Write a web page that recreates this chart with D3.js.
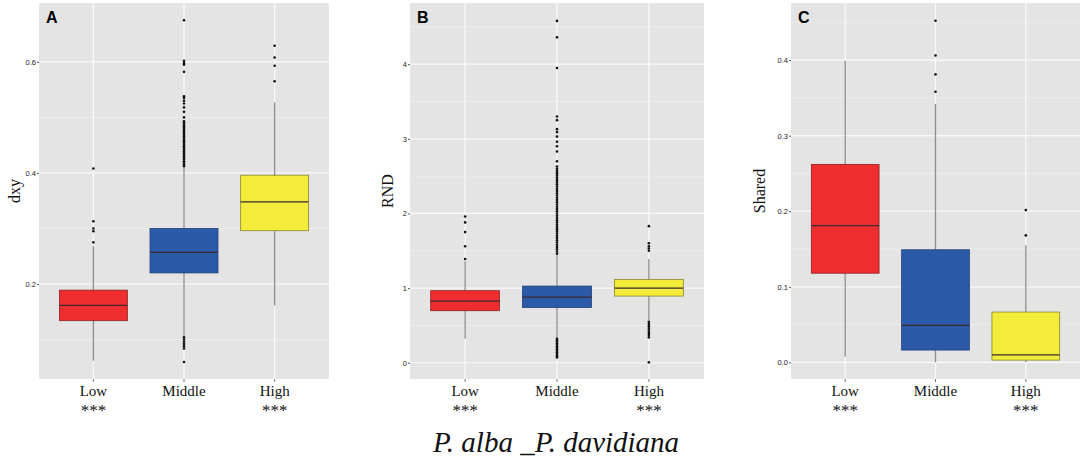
<!DOCTYPE html>
<html>
<head>
  <meta charset="utf-8">
  <script src="https://cdn.jsdelivr.net/npm/d3@7"></script>
  <style>
    body { margin: 0; background: #fff; }
  </style>
</head>
<body>
<script>
  var width = 1084;
  var height = 463;

  // categories and stars under the labels
  var groups = ["Low", "Middle", "High"];
  var stars = ["***", "", "***"];
  var fills = ["#ee2d2f", "#2b5aa9", "#f3ec3b"];
  var edges = ["#8e2020", "#1f3f78", "#8a8530"];

  // box stats: [lower whisker, q1, median, q3, upper whisker]
  var dxyStats = [
    [0.062, 0.134, 0.1615, 0.189, 0.268],
    [0.106, 0.220, 0.257, 0.300, 0.410],
    [0.1615, 0.296, 0.348, 0.396, 0.527]
  ];
  var dxyOut = [
    [0.275, 0.295, 0.300, 0.313, 0.408],
    [0.0595, 0.084, 0.088, 0.092, 0.096, 0.100, 0.104,
     0.412, 0.415, 0.418, 0.421, 0.424, 0.427, 0.430, 0.433, 0.436, 0.439, 0.442, 0.445,
     0.448, 0.451, 0.454, 0.457, 0.460, 0.463, 0.466, 0.469, 0.472, 0.475, 0.478, 0.481,
     0.484, 0.487, 0.490, 0.493, 0.500, 0.510, 0.518, 0.525, 0.530, 0.535, 0.538,
     0.582, 0.595, 0.598, 0.602, 0.675],
    [0.565, 0.593, 0.608, 0.629]
  ];

  var rndStats = [
    [0.32, 0.697, 0.826, 0.965, 1.36],
    [0.33, 0.741, 0.879, 1.027, 1.44],
    [0.57, 0.893, 1.0, 1.117, 1.39]
  ];
  var rndOut = [
    [1.39, 1.56, 1.75, 1.88, 1.96],
    [0.07, 0.08, 0.10, 0.12, 0.14, 0.16, 0.18, 0.20, 0.22, 0.24, 0.26, 0.28, 0.30, 0.32,
     1.46, 1.49, 1.52, 1.55, 1.58, 1.61, 1.64, 1.67, 1.70, 1.73, 1.76, 1.79, 1.82, 1.85,
     1.88, 1.91, 1.94, 1.97, 2.00, 2.03, 2.06, 2.09, 2.12, 2.15, 2.18, 2.21, 2.24, 2.27,
     2.30, 2.33, 2.36, 2.39, 2.42, 2.45, 2.48, 2.51, 2.54, 2.57, 2.60, 2.63,
     2.70, 2.83, 2.90, 2.96, 3.03, 3.09, 3.13, 3.25, 3.30, 3.95, 4.36, 4.58],
    [0.005, 0.34, 0.37, 0.40, 0.43, 0.46, 0.49, 0.52, 0.55,
     1.50, 1.53, 1.56, 1.60, 1.83]
  ];

  var sharedStats = [
    [0.0075, 0.118, 0.181, 0.262, 0.399],
    [0.0, 0.0163, 0.049, 0.149, 0.342],
    [0.0, 0.003, 0.010, 0.0666, 0.155]
  ];
  var sharedOut = [
    [],
    [0.358, 0.381, 0.406, 0.452],
    [0.168, 0.2015]
  ];

  var dxyTicks = [0.2, 0.4, 0.6];
  var dxyMinor = [0.1, 0.3, 0.5, 0.7];
  var rndTicks = [0, 1, 2, 3, 4];
  var rndMinor = [0.5, 1.5, 2.5, 3.5, 4.5];
  var sharedTicks = [0.0, 0.1, 0.2, 0.3, 0.4];
  var sharedMinor = [0.05, 0.15, 0.25, 0.35, 0.45];

  var svg = d3.select("body")
    .append("svg")
    .attr("width", width)
    .attr("height", height)
    .style("font-family", "'Liberation Serif', serif");

  var panels = [
    { tag: "A", title: "dxy", left: 39, right: 329, dom: [0.029, 0.706], stats: dxyStats, out: dxyOut,
      ticks: dxyTicks, minor: dxyMinor, fmt: d3.format(".1f"), titleX: 14 },
    { tag: "B", title: "RND", left: 410, right: 704, dom: [-0.218, 4.82], stats: rndStats, out: rndOut,
      ticks: rndTicks, minor: rndMinor, fmt: d3.format("d"), titleX: 387 },
    { tag: "C", title: "Shared", left: 791, right: 1080, dom: [-0.022, 0.4755], stats: sharedStats, out: sharedOut,
      ticks: sharedTicks, minor: sharedMinor, fmt: d3.format(".1f"), titleX: 759 }
  ];

  var plotTop = 3, plotBottom = 379;

  panels.forEach(function(p) {
    var g = svg.append("g");
    var x = d3.scaleBand().domain(groups).range([p.left, p.right]).paddingOuter(0.1).paddingInner(0);
    var y = d3.scaleLinear().domain(p.dom).range([plotBottom, plotTop]);
    var bw = x.bandwidth() * 0.75;
    function cx(d) { return x(d) + x.bandwidth() / 2; }

    g.append("rect")
      .attr("x", p.left).attr("y", plotTop)
      .attr("width", p.right - p.left).attr("height", plotBottom - plotTop)
      .attr("fill", "#e4e4e4");

    // grid
    g.selectAll(".minor").data(p.minor.filter(function(v) { return y(v) >= plotTop && y(v) <= plotBottom; }))
      .enter().append("line")
      .attr("x1", p.left).attr("x2", p.right)
      .attr("y1", function(d) { return y(d); }).attr("y2", function(d) { return y(d); })
      .attr("stroke", "#f2f2f2").attr("stroke-width", 0.6);
    g.selectAll(".major").data(p.ticks)
      .enter().append("line")
      .attr("x1", p.left).attr("x2", p.right)
      .attr("y1", function(d) { return y(d); }).attr("y2", function(d) { return y(d); })
      .attr("stroke", "#fafafa").attr("stroke-width", 1.2);
    g.selectAll(".vgrid").data(groups)
      .enter().append("line")
      .attr("x1", cx).attr("x2", cx)
      .attr("y1", plotTop).attr("y2", plotBottom)
      .attr("stroke", "#fafafa").attr("stroke-width", 1.2);

    // y axis
    var yAxis = d3.axisLeft(y).tickValues(p.ticks).tickFormat(p.fmt).tickSize(2).tickPadding(1);
    var ya = g.append("g").attr("transform", "translate(" + p.left + ",0)").call(yAxis);
    ya.select(".domain").remove();
    ya.selectAll("line").attr("stroke", "#555");
    ya.selectAll("text").attr("fill", "#222").style("font-family", "'Liberation Sans', Arial, sans-serif")
      .style("font-size", "7.5px");

    // x axis
    var xAxis = d3.axisBottom(x).tickSize(3).tickFormat("");
    var xa = g.append("g").attr("transform", "translate(0," + plotBottom + ")").call(xAxis);
    xa.select(".domain").remove();
    xa.selectAll("line").attr("stroke", "#777");

    g.selectAll(".xlab").data(groups)
      .enter().append("text")
      .attr("x", cx).attr("y", 396)
      .attr("text-anchor", "middle")
      .style("font-size", "15px").attr("fill", "#111")
      .text(function(d) { return d; });
    g.selectAll(".star").data(groups)
      .enter().append("text")
      .attr("x", cx).attr("y", 416)
      .attr("text-anchor", "middle")
      .style("font-size", "17px").attr("fill", "#111")
      .text(function(d, i) { return stars[i]; });

    // whiskers
    g.selectAll(".whisk").data(p.stats)
      .enter().append("line")
      .attr("x1", function(d, i) { return cx(groups[i]); })
      .attr("x2", function(d, i) { return cx(groups[i]); })
      .attr("y1", function(d) { return y(d[0]); })
      .attr("y2", function(d) { return y(d[4]); })
      .attr("stroke", "#8c8c8c").attr("stroke-width", 1.3);

    // outliers
    p.out.forEach(function(arr, i) {
      g.selectAll(".out" + i).data(arr)
        .enter().append("circle")
        .attr("cx", cx(groups[i]))
        .attr("cy", function(d) { return y(d); })
        .attr("r", 1.3)
        .attr("fill", "#111");
    });

    // boxes
    g.selectAll(".box").data(p.stats)
      .enter().append("rect")
      .attr("x", function(d, i) { return cx(groups[i]) - bw / 2; })
      .attr("y", function(d) { return y(d[3]); })
      .attr("width", bw)
      .attr("height", function(d) { return y(d[1]) - y(d[3]); })
      .attr("fill", function(d, i) { return fills[i]; })
      .attr("stroke", function(d, i) { return edges[i]; })
      .attr("stroke-width", 0.8);

    g.selectAll(".med").data(p.stats)
      .enter().append("line")
      .attr("x1", function(d, i) { return cx(groups[i]) - bw / 2; })
      .attr("x2", function(d, i) { return cx(groups[i]) + bw / 2; })
      .attr("y1", function(d) { return y(d[2]); })
      .attr("y2", function(d) { return y(d[2]); })
      .attr("stroke", "#3a2a30").attr("stroke-width", 1.2);

    // panel letter
    g.append("text")
      .attr("x", p.left + 7).attr("y", 23)
      .style("font-family", "'Liberation Sans', Arial, sans-serif")
      .style("font-weight", "bold").style("font-size", "16px")
      .attr("fill", "#000")
      .text(p.tag);

    // y title
    g.append("text")
      .attr("transform", "translate(" + p.titleX + "," + ((plotTop + plotBottom) / 2) + ") rotate(-90)")
      .attr("text-anchor", "middle")
      .attr("dy", "0.35em")
      .style("font-size", "16px").attr("fill", "#111")
      .text(p.title);
  });

  svg.append("text")
    .attr("x", 556).attr("y", 452)
    .attr("text-anchor", "middle")
    .style("font-style", "italic").style("font-size", "29px")
    .attr("fill", "#111")
    .text("P. alba _P. davidiana");
</script>
</body>
</html>
